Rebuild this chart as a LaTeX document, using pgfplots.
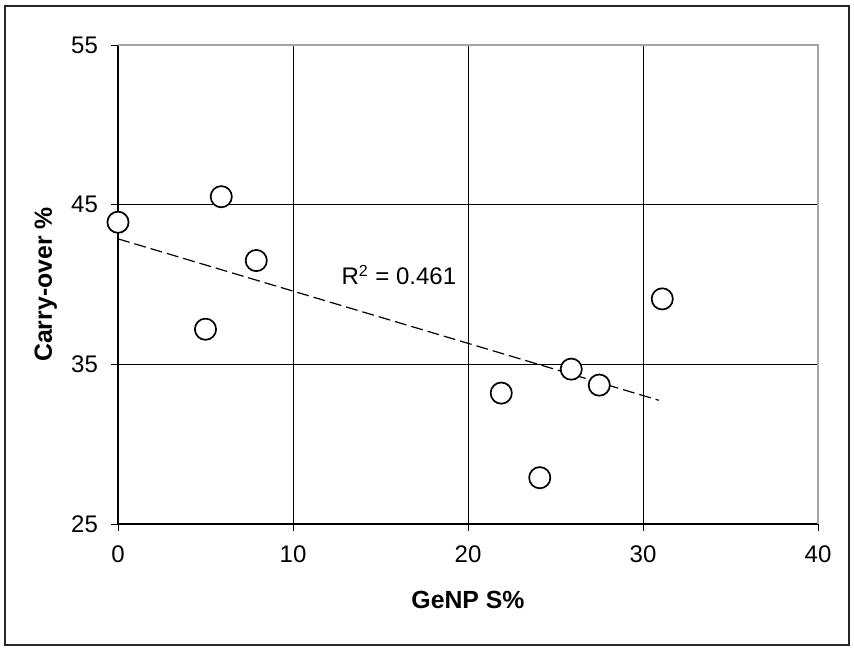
\documentclass[border=0pt]{standalone}
\usepackage{pgfplots}
\pgfplotsset{compat=1.18}
\usepackage{fontspec}
\setmainfont{Liberation Sans}
\begin{document}
\begin{tikzpicture}
\path[fill=white] (-59pt,-63pt) rectangle (368pt,262pt);
\begin{axis}[
  scale only axis,
  width=350pt, height=239.5pt,
  xmin=0, xmax=40, ymin=25, ymax=55,
  xtick={0,10,20,30,40}, ytick={25,35,45,55},
  grid=major,
  major grid style={black, line width=0.5pt},
  tick align=outside,
  major tick length=3.5pt,
  tick style={black, line width=0.5pt},
  axis line style={line width=0.6pt},
  axis x line*=bottom, axis y line*=left,
  /pgf/number format/assume math mode=true,
  tick label style={font=\fontsize{12}{14}\selectfont},
  xticklabel style={yshift=-4pt},
  yticklabel style={xshift=-3pt},
  xlabel={\textbf{GeNP S\%}},
  ylabel={\textbf{Carry-over \%}},
  label style={font=\fontsize{12.4}{14}\selectfont},
  xlabel style={at={(axis description cs:0.5,0)}, yshift=-38pt, anchor=center},
  ylabel style={at={(axis description cs:-0.103,0.5)}, anchor=center},
  clip=false,
]
\draw[gray!70, line width=0.7pt] (axis cs:0,55) -- (axis cs:40,55) -- (axis cs:40,25);
\addplot[black, line width=0.6pt, dash pattern=on 6pt off 2.5pt] coordinates {(0,42.86) (30.9,32.75)};
\addplot[only marks, mark=*, mark size=5.3pt, mark options={fill=white, draw=black, line width=0.85pt}] coordinates {
(0,43.9) (5.9,45.5) (7.9,41.5) (5.0,37.2) (21.9,33.2) (24.1,27.9) (25.9,34.7) (27.5,33.7) (31.1,39.1)
};
\node[anchor=west, inner sep=0pt, font=\fontsize{12}{14}\selectfont] at (axis cs:12.75,40.6) {R\textsuperscript{2} = 0.461};
\end{axis}
\draw[black!85, line width=1pt] (-56.5pt,-60.5pt) rectangle (365.5pt,259pt);
\end{tikzpicture}
\end{document}
